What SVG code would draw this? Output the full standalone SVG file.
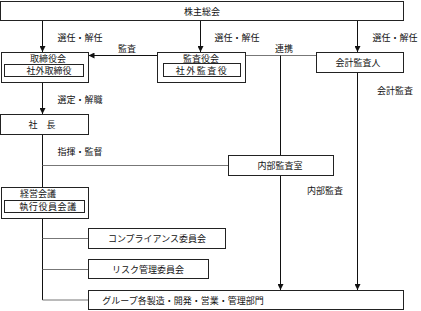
<svg xmlns="http://www.w3.org/2000/svg" width="421" height="311" viewBox="0 0 421 311">
<style>
.box{fill:#fff;stroke:#222;stroke-width:1}
.t{font-family:"Noto Sans CJK JP","Noto Sans CJK SC",sans-serif;font-size:9px;fill:#111;text-anchor:middle;dominant-baseline:central}
.l{fill:none;stroke:#111;stroke-width:1}
.g{fill:none;stroke:#777;stroke-width:1}
</style>
<defs>
<marker id="ah" viewBox="0 0 6 6" refX="6" refY="3" markerWidth="6" markerHeight="6" orient="auto" markerUnits="userSpaceOnUse">
<path d="M0,0 L6,3 L0,6 Z" fill="#111"/>
</marker>
</defs>
<rect width="421" height="311" fill="#fff"/>
<g id="connectors">
<line class="l" x1="42.5" y1="20" x2="42.5" y2="52" marker-end="url(#ah)"/>
<line class="l" x1="200.5" y1="20" x2="200.5" y2="52" marker-end="url(#ah)"/>
<line class="l" x1="357.5" y1="20" x2="357.5" y2="52" marker-end="url(#ah)"/>
<line class="l" x1="157" y1="55.5" x2="88.5" y2="55.5" marker-end="url(#ah)"/>
<line class="g" x1="246" y1="55.5" x2="316" y2="55.5"/>
<line class="l" x1="280.5" y1="55.5" x2="280.5" y2="156"/>
<line class="l" x1="280.5" y1="176" x2="280.5" y2="290" marker-end="url(#ah)"/>
<line class="l" x1="357.5" y1="73" x2="357.5" y2="290" marker-end="url(#ah)"/>
<line class="l" x1="42.5" y1="83" x2="42.5" y2="114" marker-end="url(#ah)"/>
<line class="l" x1="42.5" y1="135" x2="42.5" y2="187"/>
<line class="g" x1="42.5" y1="165.5" x2="228" y2="165.5"/>
<line class="l" x1="42.5" y1="219" x2="42.5" y2="300"/>
<line class="g" x1="42.5" y1="238.5" x2="88" y2="238.5"/>
<line class="g" x1="42.5" y1="269.5" x2="88" y2="269.5"/>
<line class="g" x1="42.5" y1="300" x2="88" y2="300"/>
</g>
<g id="labels">
<text class="t" x="80" y="37">選任・解任</text>
<text class="t" x="237" y="37">選任・解任</text>
<text class="t" x="395" y="37">選任・解任</text>
<text class="t" x="127" y="48">監査</text>
<text class="t" x="284" y="48">連携</text>
<text class="t" x="80" y="99">選定・解職</text>
<text class="t" x="80" y="151">指揮・監督</text>
<text class="t" x="395" y="90">会計監査</text>
<text class="t" x="325" y="190">内部監査</text>
</g>
<g id="kabunushi">
<rect class="box" x="0.5" y="1.5" width="403" height="19"/>
<text class="t" x="202" y="11">株主総会</text>
</g>
<g id="torishimariyaku">
<rect class="box" x="1.5" y="52.5" width="87" height="30"/>
<text class="t" x="48" y="58">取締役会</text>
<rect class="box" x="4.5" y="64.5" width="79" height="12"/>
<text class="t" x="49" y="70.5">社外取締役</text>
</g>
<g id="kansayaku">
<rect class="box" x="157.5" y="52.5" width="88" height="30"/>
<text class="t" x="201" y="58">監査役会</text>
<rect class="box" x="163.5" y="63.5" width="77" height="13"/>
<text class="t" x="202" y="70" letter-spacing="1.5">社外監査役</text>
</g>
<g id="kaikei">
<rect class="box" x="316.5" y="52.5" width="87" height="20"/>
<text class="t" x="358" y="62.5">会計監査人</text>
</g>
<g id="shacho">
<rect class="box" x="0.5" y="114.5" width="88" height="20"/>
<text class="t" x="42" y="124.5">社　長</text>
</g>
<g id="naibu">
<rect class="box" x="228.5" y="155.5" width="105" height="20"/>
<text class="t" x="280" y="165.5">内部監査室</text>
</g>
<g id="keiei">
<rect class="box" x="1.5" y="187.5" width="87" height="31"/>
<text class="t" x="38" y="193.5">経営会議</text>
<rect class="box" x="4.5" y="200.5" width="80" height="12"/>
<text class="t" x="48" y="206.5" letter-spacing="0.6">執行役員会議</text>
</g>
<g id="compliance">
<rect class="box" x="88.5" y="228.5" width="137" height="20"/>
<text class="t" x="157" y="238.5">コンプライアンス委員会</text>
</g>
<g id="risk">
<rect class="box" x="88.5" y="259.5" width="120" height="19"/>
<text class="t" x="148" y="269">リスク管理委員会</text>
</g>
<g id="group">
<rect class="box" x="88.5" y="290.5" width="315" height="19"/>
<text class="t" x="183" y="300">グループ各製造・開発・営業・管理部門</text>
</g>
</svg>
